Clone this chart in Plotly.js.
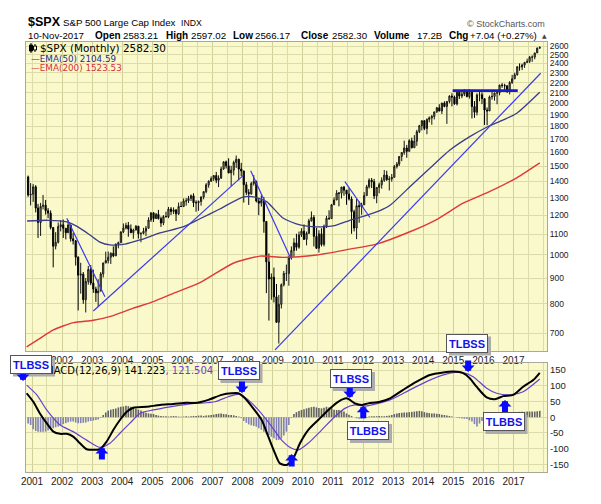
<!DOCTYPE html>
<html><head><meta charset="utf-8">
<script src="https://cdn.plot.ly/plotly-3.0.1.min.js"></script>
<style>html,body{margin:0;padding:0;background:#fff}#chart{width:601px;height:504px}</style>
</head><body><div id="chart"></div>
<script>
// ---------- DATA ----------
const firstYear = 2000, firstMonth = 11, barCount = 205; // Nov 2000 .. Nov 2017 monthly bars
const openP = [1429,1315,
1320,1366,1240,1160,1249,1256,1224,1211,1134,1041,1060,1139,
1148,1130,1107,1147,1077,1067,990,912,916,815,886,936,
880,856,841,848,917,964,975,990,1008,996,1051,1058,
1112,1131,1145,1126,1107,1121,1141,1102,1104,1115,1130,1174,
1212,1181,1204,1181,1157,1192,1191,1234,1220,1229,1207,1249,
1248,1280,1281,1295,1311,1270,1270,1277,1304,1336,1378,1401,
1418,1438,1407,1421,1482,1531,1503,1455,1474,1527,1549,1481,
1468,1379,1331,1323,1386,1400,1280,1267,1283,1166,969,896,
903,826,735,798,873,919,919,987,1021,1057,1036,1096,
1115,1074,1104,1169,1187,1089,1031,1102,1049,1141,1183,1181,
1258,1286,1327,1326,1364,1345,1321,1292,1219,1131,1253,1247,
1258,1312,1366,1408,1398,1310,1362,1379,1407,1441,1412,1416,
1426,1498,1515,1569,1598,1631,1606,1686,1633,1682,1757,1806,
1848,1783,1859,1872,1884,1924,1960,1931,2003,1972,2018,2068,
2059,1995,2105,2068,2086,2107,2063,2104,1972,1920,2079,2080,
2044,1940,1932,2060,2065,2097,2099,2174,2171,2168,2126,2199,
2239,2279,2364,2363,2384,2412,2423,2470,2472,2519,2575];
const highP = [1438,1389,
1383,1376,1263,1269,1316,1286,1239,1226,1134,1110,1160,1173,
1176,1131,1173,1147,1107,1071,994,965,925,900,951,955,
935,865,895,925,966,1015,1016,1012,1040,1054,1063,1112,
1155,1159,1163,1150,1128,1146,1141,1109,1132,1142,1188,1217,
1217,1212,1229,1192,1200,1219,1246,1245,1243,1233,1271,1276,
1295,1297,1310,1319,1326,1284,1283,1307,1340,1389,1407,1432,
1441,1462,1439,1498,1535,1540,1556,1503,1539,1576,1553,1524,
1471,1396,1351,1397,1441,1405,1293,1314,1303,1168,1007,919,
944,876,833,878,930,957,997,1040,1080,1102,1113,1130,
1150,1113,1180,1220,1200,1132,1120,1130,1149,1196,1227,1263,
1302,1345,1333,1365,1371,1346,1357,1307,1230,1293,1278,1270,
1333,1378,1420,1422,1416,1363,1392,1426,1475,1470,1434,1448,
1509,1530,1570,1598,1687,1654,1698,1710,1730,1772,1813,1849,
1850,1867,1884,1897,1924,1968,1992,2005,2019,2019,2076,2094,
2072,2120,2118,2126,2135,2130,2133,2113,2021,2094,2117,2104,
2044,1963,2073,2111,2100,2121,2178,2194,2188,2169,2214,2278,
2301,2371,2401,2398,2418,2454,2484,2491,2519,2582,2597];
const lowP = [1305,1254,
1275,1215,1081,1091,1232,1203,1183,1124,945,1026,1054,1114,
1081,1074,1106,1063,1049,953,776,838,800,769,873,871,
841,807,789,847,902,963,962,960,990,996,1031,1056,
1105,1124,1087,1107,1077,1118,1078,1060,1099,1090,1128,1163,
1163,1180,1176,1137,1146,1188,1183,1201,1206,1168,1201,1246,
1245,1253,1268,1280,1245,1219,1224,1253,1290,1326,1360,1397,
1403,1389,1364,1416,1476,1485,1454,1371,1439,1489,1407,1435,
1271,1316,1257,1317,1374,1272,1200,1248,1107,840,741,815,
805,735,667,783,866,888,869,979,992,1020,1029,1086,
1071,1045,1102,1165,1040,1029,1011,1040,1040,1131,1174,1181,
1257,1285,1249,1295,1311,1258,1283,1102,1114,1075,1159,1202,
1258,1312,1355,1358,1291,1267,1326,1354,1397,1403,1343,1398,
1426,1485,1502,1536,1581,1560,1605,1628,1633,1647,1746,1768,
1770,1737,1834,1814,1859,1915,1930,1905,1965,1821,2001,1973,
1988,1981,2040,2048,2068,2056,2044,1867,1872,1893,2019,1993,
1812,1810,1932,2034,2025,1992,2075,2148,2120,2097,2084,2187,
2233,2271,2322,2329,2353,2406,2407,2418,2447,2520,2566];
const closeP = [1315,1320,
1366,1240,1160,1249,1256,1224,1211,1134,1041,1060,1139,1148,
1130,1107,1147,1077,1067,990,912,916,815,886,936,880,
856,841,848,917,964,975,990,1008,996,1051,1058,1112,
1131,1145,1126,1107,1121,1141,1102,1104,1115,1130,1174,1212,
1181,1204,1181,1157,1192,1191,1234,1220,1229,1207,1249,1248,
1280,1281,1295,1311,1270,1270,1277,1304,1336,1378,1401,1418,
1438,1407,1421,1482,1531,1503,1455,1474,1527,1549,1481,1468,
1379,1331,1323,1386,1400,1280,1267,1283,1166,969,896,903,
826,735,798,873,919,919,987,1021,1057,1036,1096,1115,
1074,1104,1169,1187,1089,1031,1102,1049,1141,1183,1181,1258,
1286,1327,1326,1364,1345,1321,1292,1219,1131,1253,1247,1258,
1312,1366,1408,1398,1310,1362,1379,1407,1441,1412,1416,1426,
1498,1515,1569,1598,1631,1606,1686,1633,1682,1757,1806,1848,
1783,1859,1872,1884,1924,1960,1931,2003,1972,2018,2068,2059,
1995,2105,2068,2086,2107,2063,2104,1972,1920,2079,2080,2044,
1940,1932,2060,2065,2097,2099,2174,2171,2168,2126,2199,2239,
2279,2364,2363,2384,2412,2423,2470,2472,2519,2575,2582];

const ema50Dates = ['2000-11-02','2001-07-13','2002-03-01','2002-07-12','2002-12-05','2003-04-05','2003-08-05','2004-02-04','2004-08-03','2005-04-03','2006-01-08','2006-08-01','2007-03-30','2008-01-05','2008-05-29','2008-10-22','2009-05-04','2009-11-27','2010-06-20','2011-01-02','2011-07-25','2012-02-19','2012-07-24','2012-11-24','2013-07-23','2014-03-22','2014-11-21','2015-07-20','2016-02-10','2016-08-29','2017-02-09','2017-11-15'];
const ema50Vals = [1168,1172,1163,1137,1096,1061,1047,1051,1071,1106,1137,1180,1234,1303,1303,1275,1184,1147,1137,1142,1172,1200,1225,1255,1366,1487,1616,1718,1793,1854,1912,2104.59];
const ema200Dates = ['2000-10-28','2001-04-07','2001-09-17','2002-05-16','2003-01-15','2003-09-14','2004-05-14','2005-01-13','2005-09-12','2006-08-01','2007-09-09','2008-07-29','2009-05-08','2010-06-17','2011-07-25','2012-06-14','2013-07-23','2014-06-12','2015-04-30','2016-03-20','2017-02-09','2017-11-15'];
const ema200Vals = [657,683,710,734,742,758,784,808,839,881,963,995,989,1000,1027,1051,1112,1176,1267,1337,1423,1523.53];

// hand-drawn trendlines (start date, start value, end date, end value)
const trendStartDates = ['2002-02-27','2003-01-15','2008-04-08','2011-05-26','2009-01-28','2014-12-24'];
const trendStartVals  = [1183,774,1470,1398,648,2120];
const trendEndDates   = ['2003-06-05','2008-01-09','2009-08-06','2012-03-25','2017-11-26','2017-02-21'];
const trendEndVals    = [826,1439,985,1187,2295,2120];

// MACD(12,26,9)
const macdDates = ['2000-10-28','2001-01-17','2001-04-07','2001-06-28','2001-09-17','2001-12-07','2002-02-27','2002-05-16','2002-08-06','2002-10-26','2003-01-15','2003-04-05','2003-06-25','2003-09-14','2003-12-04','2004-02-25','2004-05-14','2004-10-24','2005-04-03','2005-09-12','2006-02-22','2006-06-02','2006-11-11','2007-04-21','2007-08-20','2007-11-09','2008-01-30','2008-05-09','2008-08-19','2008-11-08','2009-01-28','2009-03-28','2009-06-18','2009-09-07','2009-11-27','2010-03-06','2010-07-06','2010-11-06','2011-03-05','2011-06-16','2011-09-25','2011-12-15','2012-03-04','2012-07-24','2012-11-24','2013-05-03','2013-10-13','2014-03-22','2014-09-01','2015-01-01','2015-04-30','2015-07-20','2015-10-10','2016-02-10','2016-05-19','2016-08-29','2016-12-28','2017-04-28','2017-08-28','2017-11-15'];
const macdVals = [76,49,12,-19,-46,-53,-53,-62,-83,-102,-104,-102,-78,-41,-9,17,30,33,39,42,46,45,55,71,76,76,60,28,-9,-62,-115,-147,-152,-131,-83,-41,-9,23,49,60,44,39,44,49,60,87,113,134,142,145,140,124,97,63,57,67,71,97,118,141.223];
const signalDates = ['2000-10-28','2001-02-28','2001-06-28','2001-12-07','2002-05-16','2002-10-26','2003-04-05','2003-08-05','2003-12-04','2004-04-04','2004-08-03','2005-01-13','2005-08-02','2006-02-22','2006-06-22','2007-02-01','2007-07-10','2007-11-30','2008-03-09','2008-07-09','2008-12-19','2009-04-18','2009-08-18','2009-11-07','2010-03-06','2010-08-16','2011-01-26','2011-05-26','2011-09-25','2012-01-25','2012-11-24','2013-07-23','2014-03-22','2014-11-21','2015-04-30','2015-08-30','2016-02-10','2016-06-10','2016-11-19','2017-04-28','2017-11-15'];
const signalVals = [102,71,23,-25,-46,-73,-96,-83,-51,-19,12,23,33,41,44,49,65,73,55,23,-30,-73,-99,-104,-83,-41,2,28,39,35,55,87,118,140,142,129,92,76,71,81,121.504];
const histVals = [-20,-25,
-38,-44,-46,-47,-46,-46,-42,-38,-35,-32,-30,-26,
-22,-19,-16,-14,-14,-17,-19,-19,-18,-17,-14,-12,
-11,-9,-7,-2,7,15,21,24,26,28,31,33,
34,36,35,33,31,28,24,21,17,14,12,11,
10,7,5,4,3,3,2,3,4,3,2,1,
2,3,2,3,4,4,5,5,4,5,6,7,
8,10,11,12,10,9,7,7,6,4,2,-3,
-12,-18,-23,-26,-28,-30,-35,-40,-46,-52,-57,-62,
-67,-73,-72,-68,-58,-46,-25,-2,10,16,20,23,
25,28,30,32,33,31,29,28,30,33,31,28,
24,23,23,22,18,12,8,4,0,-4,-5,-5,
-4,-2,2,3,3,3,4,3,3,4,5,7,
10,12,13,14,15,15,16,17,18,19,20,19,
16,14,13,12,12,11,10,8,7,5,4,2,
0,-2,-3,-4,-5,-6,-10,-14,-22,-30,-20,-12,
-5,-3,-2,-1,0,1,1,0,-1,0,1,2,
10,16,17,17,17,18,18,18,18,19,20];

// trendline-break signals on the MACD panel
const sigArrowDates  = ['2003-04-29','2007-12-24','2009-08-18','2011-07-25','2012-01-04','2015-06-30','2016-09-19'];
const sigArrowLevels = [-95,77,-117,61,36,144,55];
const sigArrowKinds  = ['buy','sell','buy','sell','buy','sell','buy'];
const sigLabels      = ['','TLBSS','','TLBSS','TLBBS','TLBSS','TLBBS'];
const firstSignalLabel = 'TLBSS';

const priceTicks = [700,800,900,1000,1100,1200,1300,1400,1500,1600,1700,1800,1900,2000,2100,2200,2300,2400,2500,2600];
const macdTicks = [-150,-100,-50,0,50,100,150];
const yearTicks = ['2001','2002','2003','2004','2005','2006','2007','2008','2009','2010','2011','2012','2013','2014','2015','2016','2017'];

const headerBoldLabels = ['Open','High','Low','Close','Volume','Chg'];
const headerValues = ['2583.21','2597.02','2566.17','2582.30','17.2B','+7.04 (+0.27%)'];

// ---------- BUILD ----------
const dates = [];
for (let i = 0; i < barCount; i++) {
  const t = firstYear * 12 + (firstMonth - 1) + i;
  const y = Math.floor(t / 12), mo = t % 12 + 1;
  dates.push(y + '-' + String(mo).padStart(2, '0') + '-15');
}

const W = 601, H = 504, L = 26, R = 547, T = 42, B = 472;
const px = x => (x - L) / (R - L);
const py = y => (B - y) / (B - T);

const BG = '#f9f9cb', GRID = '#dcdcab', GRIDMAJ = '#d0d098', FRAME = '#a9a99a';
const SANS = 'Liberation Sans, Arial, sans-serif';

const traces = [];
traces.push({
  type: 'candlestick', x: dates, open: openP, high: highP, low: lowP, close: closeP,
  xaxis: 'x', yaxis: 'y', whiskerwidth: 0,
  increasing: {line: {color: '#151515', width: 1}, fillcolor: 'rgba(120,120,90,0.5)'},
  decreasing: {line: {color: '#000', width: 1}, fillcolor: '#000'},
  hoverinfo: 'skip', showlegend: false
});
traces.push({type: 'scatter', mode: 'lines', x: ema200Dates, y: ema200Vals, xaxis: 'x', yaxis: 'y',
  line: {color: '#e03838', width: 1.4, shape: 'spline', smoothing: 0.6}, hoverinfo: 'skip', showlegend: false});
traces.push({type: 'scatter', mode: 'lines', x: ema50Dates, y: ema50Vals, xaxis: 'x', yaxis: 'y',
  line: {color: '#3b3b8e', width: 1.3, shape: 'spline', smoothing: 0.6}, hoverinfo: 'skip', showlegend: false});
for (let i = 0; i < trendStartDates.length; i++) {
  const flat = trendStartVals[i] === trendEndVals[i];
  traces.push({type: 'scatter', mode: 'lines', x: [trendStartDates[i], trendEndDates[i]], y: [trendStartVals[i], trendEndVals[i]],
    xaxis: 'x', yaxis: 'y', line: {color: flat ? '#1a1ad0' : '#3a3af0', width: flat ? 2.6 : 1.2},
    hoverinfo: 'skip', showlegend: false});
}
traces.push({type: 'bar', x: dates, y: histVals, xaxis: 'x2', yaxis: 'y2',
  marker: {color: histVals.map(v => v >= 0 ? '#626262' : '#8282b4'), line: {width: 0}},
  hoverinfo: 'skip', showlegend: false});
traces.push({type: 'scatter', mode: 'lines', x: signalDates, y: signalVals, xaxis: 'x2', yaxis: 'y2',
  line: {color: '#6a3fd0', width: 1.2, shape: 'spline', smoothing: 0.7}, hoverinfo: 'skip', showlegend: false});
traces.push({type: 'scatter', mode: 'lines', x: macdDates, y: macdVals, xaxis: 'x2', yaxis: 'y2',
  line: {color: '#000', width: 2, shape: 'spline', smoothing: 0.7}, hoverinfo: 'skip', showlegend: false});

const ann = [];
const shapes = [];
const hdrFont = {family: SANS, size: 9.7, color: '#000'};
const boldFont = {family: SANS, size: 10, color: '#000'};
function txt(x, y, text, font, anchor) {
  ann.push({xref: 'paper', yref: 'paper', x: px(x), y: py(y), text: text, showarrow: false,
    xanchor: anchor || 'left', yanchor: 'middle', font: font});
}
txt(26, 22, '<b>$SPX</b>', {family: SANS, size: 12.5, color: '#000'});
txt(61, 23, 'S&P 500 Large Cap Index', hdrFont);
txt(179, 23, 'INDX', {family: SANS, size: 8.7, color: '#000'});
txt(547, 24, '© StockCharts.com', {family: SANS, size: 9, color: '#555'}, 'right');
txt(26, 35, '10-Nov-2017', hdrFont);
const labelX = [93, 164, 231, 299, 372, 447], valueX = [121, 189, 253, 330, 415, 468];
headerBoldLabels.forEach((s, i) => {
  txt(labelX[i], 35, '<b>' + s + '</b>', boldFont);
  txt(valueX[i], 35.5, headerValues[i], hdrFont);
});
txt(540, 35, '▲', {family: 'DejaVu Sans', size: 6, color: '#444'});

// legends
txt(38, 48, '$SPX (Monthly) 2582.30', {family: 'DejaVu Sans', size: 10.4, color: '#000'});
txt(29, 58.5, '—EMA(50) ' + ema50Vals[ema50Vals.length - 1].toFixed(2), {family: 'DejaVu Sans', size: 8.8, color: '#2b2b90'});
txt(29, 68, '—EMA(200) ' + ema200Vals[ema200Vals.length - 1].toFixed(2), {family: 'DejaVu Sans', size: 8.8, color: '#d8303a'});
txt(43, 370.5, 'MACD(12,26,9) ' + macdVals[macdVals.length - 1].toFixed(3) +
  '<span style="color:#6a3fd0">, ' + signalVals[signalVals.length - 1].toFixed(3) + '</span>',
  {family: 'DejaVu Sans', size: 10, color: '#000'});

// signal arrows
const ARROW = '#0a0aff';
sigArrowDates.forEach((d, i) => {
  const sell = sigArrowKinds[i] === 'sell';
  ann.push({xref: 'x2', yref: 'y2', x: d, y: sigArrowLevels[i], text: '', showarrow: true,
    ax: 0, ay: sell ? -13 : 14, arrowcolor: ARROW, arrowwidth: 6, arrowhead: 1, arrowsize: 0.36, standoff: 0});
});
ann.push({xref: 'paper', yref: 'paper', x: px(23), y: py(381), text: '', showarrow: true,
  ax: 0, ay: -9, arrowcolor: ARROW, arrowwidth: 6, arrowhead: 1, arrowsize: 0.36, standoff: 0});

// label boxes (white, framed, with a grey drop shadow)
const boxCenters = [null, [238.5, 370.5], null, [351, 378.5], [368, 430.5], [467, 343], [503.5, 421.5]];
const boxList = [[31, 364, firstSignalLabel]];
sigLabels.forEach((s, i) => { if (s) boxList.push([boxCenters[i][0], boxCenters[i][1], s]); });
const boxFont = {family: SANS, size: 11, color: '#1414e6'};
const halfW = 21, halfH = 9.5;
boxList.forEach(b => {
  shapes.push({type: 'rect', layer: 'above', xref: 'paper', yref: 'paper',
    x0: px(b[0] - halfW + 3), x1: px(b[0] + halfW + 3), y0: py(b[1] + halfH + 3), y1: py(b[1] - halfH + 3),
    fillcolor: '#acacac', line: {width: 0}});
  ann.push({xref: 'paper', yref: 'paper', x: px(b[0]), y: py(b[1]), text: '<b>' + b[2] + '</b>', showarrow: false,
    xanchor: 'center', yanchor: 'middle', font: boxFont, bgcolor: '#ffffff',
    width: 2 * halfW - 2, height: 2 * halfH - 2, borderpad: 0, borderwidth: 1, bordercolor: '#555'});
});

// candle icon in legend
shapes.push(
  {type: 'line', xref: 'paper', yref: 'paper', x0: px(31), x1: px(31), y0: py(43), y1: py(53), line: {color: '#000', width: 1}},
  {type: 'rect', xref: 'paper', yref: 'paper', x0: px(29.5), x1: px(32.5), y0: py(45), y1: py(51), fillcolor: '#000', line: {color: '#000', width: 1}},
  {type: 'line', xref: 'paper', yref: 'paper', x0: px(35), x1: px(35), y0: py(44), y1: py(52), line: {color: '#000', width: 1}},
  {type: 'rect', xref: 'paper', yref: 'paper', x0: px(33.5), x1: px(36.5), y0: py(46), y1: py(50), fillcolor: BG, line: {color: '#000', width: 1}}
);

const xCommon = {
  type: 'date', range: ['2000-10-20', '2018-02-11'],
  tickmode: 'array',
  showgrid: true, gridcolor: GRIDMAJ, gridwidth: 1,
  minor: {tickmode: 'linear', tick0: '2001-01-01', dtick: 'M6', showgrid: true, gridcolor: GRID, gridwidth: 1, ticks: ''},
  showline: true, linecolor: FRAME, linewidth: 1, mirror: true, ticks: '', zeroline: false,
  tickfont: {family: SANS, size: 10, color: '#222'}, fixedrange: true
};
// the top row's first year label sits under the first TLBSS box in the original, so it starts one year later
const topYears = yearTicks.slice(1);
const layout = {
  width: W, height: H, margin: {l: L, r: W - R, t: T, b: H - B, pad: 0},
  paper_bgcolor: '#fff', plot_bgcolor: BG, showlegend: false, bargap: 0.3,
  font: {family: SANS, size: 10, color: '#222'},
  xaxis: Object.assign({}, xCommon, {anchor: 'y', domain: [0, 1], rangeslider: {visible: false},
    tickvals: topYears.map(y => y + '-01-01'), ticktext: topYears}),
  xaxis2: Object.assign({}, xCommon, {anchor: 'y2', domain: [0, 1], matches: 'x',
    tickvals: yearTicks.map(y => y + '-01-01'), ticktext: yearTicks}),
  yaxis: {domain: [(B - 351) / (B - T), 1], type: 'log', range: [Math.log10(644.7), Math.log10(2648)], side: 'right',
    anchor: 'x', tickvals: priceTicks, ticktext: priceTicks.map(String), showgrid: true, gridcolor: GRID,
    showline: true, linecolor: FRAME, mirror: true, ticks: '', zeroline: false,
    tickfont: {family: SANS, size: 8.5, color: '#222'}, fixedrange: true},
  yaxis2: {domain: [0, (B - 363) / (B - T)], range: [-174.4, 172.4], side: 'right', anchor: 'x2',
    tickvals: macdTicks, ticktext: macdTicks.map(String), showgrid: true, gridcolor: GRID,
    showline: true, linecolor: FRAME, mirror: true, ticks: '', zeroline: false,
    tickfont: {family: SANS, size: 9.5, color: '#222'}, fixedrange: true},
  annotations: ann, shapes: shapes
};
Plotly.newPlot('chart', traces, layout, {displayModeBar: false, staticPlot: true});
</script></body></html>
